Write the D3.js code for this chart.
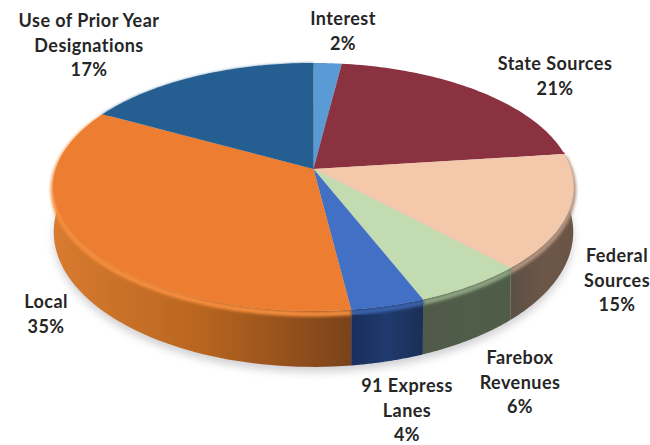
<!DOCTYPE html>
<html>
<head>
<meta charset="utf-8">
<script src="https://cdn.jsdelivr.net/npm/d3@7/dist/d3.min.js"></script>
<style>
html,body{margin:0;padding:0;background:#fff}
svg{display:block}
text{font-family:Lato,"Open Sans",sans-serif;font-weight:700;font-size:18px;letter-spacing:.45px;fill:#262626;text-anchor:middle}
</style>
</head>
<body>
<svg id="chart" width="650" height="445"></svg>
<script>
// Revenue sources, clockwise from twelve o'clock
const categories = ["Interest", "State Sources", "Federal Sources", "Farebox Revenues", "91 Express Lanes", "Local", "Use of Prior Year Designations"];
const shares = [2, 21, 15, 6, 4, 35, 17];
const labelLines = [["Interest"], ["State Sources"], ["Federal", "Sources"], ["Farebox", "Revenues"], ["91 Express", "Lanes"], ["Local"], ["Use of Prior Year", "Designations"]];
const topColors = ["#5B9BD5", "#8A3240", "#F4C8AB", "#C2DBB0", "#4270C4", "#ED7D31", "#255E91"];
const rimColors = ["#5B9BD5", "#8A3240", "#B49682", "#8FA583", "#3B64AE", "#F78E3C", "#255E91"];
const sideStops = [null, null, ["#5A5045", "#6C5647", "#6A5445"], ["#4F5A48", "#505D49", "#4F5C48"], ["#1A2F5B", "#1F3A6E", "#1B2F56"], ["#D87B30", "#B8651F", "#7A421A"], null];

// Label anchor: centre x and first baseline
const labelAnchors = [[343, 25], [555, 70], [617, 262], [520, 364], [407, 392], [46, 308], [89, 27]];
const lineHeight = 24.6;

const svg = d3.select("#chart");
const defs = svg.append("defs");
const blur = (id, s) => defs.append("filter").attr("id", id)
  .attr("x", "-20%").attr("y", "-20%").attr("width", "140%").attr("height", "140%")
  .append("feGaussianBlur").attr("stdDeviation", s);
blur("soft", 1.5);
blur("shadow", 4);

// Tilted disc: a projective mapping of the unit circle, so the near rim is larger
const tilt = 0.145;
const project = (disc) => (a) => {
  const u = Math.sin(a), v = -Math.cos(a), w = 1 - tilt * v;
  return [disc.cx + disc.a * u / w, disc.cy + disc.b * v / w];
};
const hub = [313.5, 169];
const topDisc = project({cx: hub[0], cy: hub[1], a: 257.5, b: 121.4});
const baseDisc = project({cx: hub[0], cy: 212.4, a: 257, b: 132.1});

const arcs = d3.pie().sort(null).startAngle(0).endAngle(2 * Math.PI)(shares);
const path = d3.line();
const sweep = (f, a0, a1) => d3.range(0, 61).map(i => f(a0 + (a1 - a0) * i / 60));

// Only the near part of the wall can be seen
const wallFrom = 82 * Math.PI / 180, wallTo = 275 * Math.PI / 180;

// Soft ground shadow beneath the base
svg.append("path")
  .attr("d", path(sweep(baseDisc, 0, 2 * Math.PI).map(p => [p[0], p[1] + 5])) + "Z")
  .attr("fill", "#a9a9b0").attr("opacity", 0.55).attr("filter", "url(#shadow)");

// Outer wall, slice by slice
arcs.forEach((d, i) => {
  const a0 = Math.max(d.startAngle, wallFrom), a1 = Math.min(d.endAngle, wallTo);
  if (a1 <= a0 || !sideStops[i]) return;
  const top = sweep(topDisc, a0, a1), base = sweep(baseDisc, a0, a1);
  const xs = top.concat(base).map(p => p[0]);
  const g = defs.append("linearGradient").attr("id", "wall" + i)
    .attr("gradientUnits", "userSpaceOnUse")
    .attr("x1", d3.min(xs)).attr("x2", d3.max(xs)).attr("y1", 0).attr("y2", 0);
  sideStops[i].forEach((c, k) => g.append("stop").attr("offset", k / 2).attr("stop-color", c));
  svg.append("path")
    .attr("d", path(top.concat(base.reverse())) + "Z")
    .attr("fill", `url(#wall${i})`);
});

// Bevel: a blurred band along the rim blends the face into the wall
arcs.forEach((d, i) => {
  const a0 = Math.max(d.startAngle, wallFrom - 0.02);
  if (d.endAngle <= a0) return;
  svg.append("path")
    .attr("d", path(sweep(topDisc, a0, d.endAngle).map(p => [p[0], p[1] + 3])))
    .attr("fill", "none").attr("stroke", rimColors[i]).attr("stroke-width", 5)
    .attr("filter", "url(#soft)");
});

// Top face
svg.append("g").selectAll("path").data(arcs).join("path")
  .attr("d", d => path([hub].concat(sweep(topDisc, d.startAngle, d.endAngle))) + "Z")
  .attr("fill", (d, i) => topColors[i]);

// Labels: category lines followed by the share
svg.append("g").selectAll("text").data(categories).join("text")
  .attr("transform", (d, i) => `translate(${labelAnchors[i][0]},${labelAnchors[i][1]})`)
  .attr("aria-label", d => d)
  .each(function (d, i) {
    const t = d3.select(this);
    labelLines[i].concat(shares[i] + "%").forEach((line, k) => {
      t.append("tspan").attr("x", 0).attr("y", k * lineHeight).text(line);
    });
  });
</script>
</body>
</html>
